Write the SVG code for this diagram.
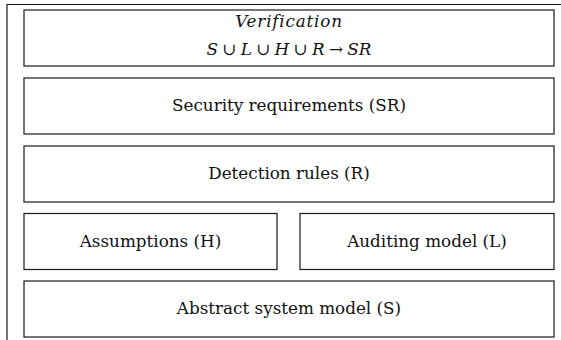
<svg xmlns="http://www.w3.org/2000/svg" width="561" height="340" viewBox="0 0 561 340">
<style>
.box{fill:#fff;stroke:#1a1a1a;stroke-width:1.2}
.frame{fill:none;stroke:#1a1a1a;stroke-width:1.2}
text{font-family:"DejaVu Serif","Liberation Serif",serif;font-size:16.8px;fill:#111;text-anchor:middle}
.it{font-style:italic}
</style>
<rect width="561" height="340" fill="#fff"/>
<g id="frame">
<path class="frame" d="M7,340 V4.5 H561"/>
</g>
<g id="verification">
<rect class="box" x="24" y="10" width="530" height="56"/>
<text x="289" y="27" class="it" letter-spacing="0.8">Verification</text>
<text x="289" y="55" word-spacing="-1"><tspan class="it">S</tspan> ∪ <tspan class="it">L</tspan> ∪ <tspan class="it">H</tspan> ∪ <tspan class="it">R</tspan> → <tspan class="it">SR</tspan></text>
</g>
<g id="security-requirements">
<rect class="box" x="24" y="78" width="530" height="56"/>
<text x="289" y="111">Security requirements (SR)</text>
</g>
<g id="detection-rules">
<rect class="box" x="24" y="146" width="530" height="56"/>
<text x="289" y="179">Detection rules (R)</text>
</g>
<g id="assumptions">
<rect class="box" x="24" y="213.5" width="253" height="56"/>
<text x="150.5" y="246.5">Assumptions (H)</text>
</g>
<g id="auditing-model">
<rect class="box" x="300" y="213.5" width="254" height="56"/>
<text x="427" y="246.5">Auditing model (L)</text>
</g>
<g id="abstract-system-model">
<rect class="box" x="24" y="281" width="530" height="56"/>
<text x="289" y="314">Abstract system model (S)</text>
</g>
<g id="connectors"/>
</svg>
